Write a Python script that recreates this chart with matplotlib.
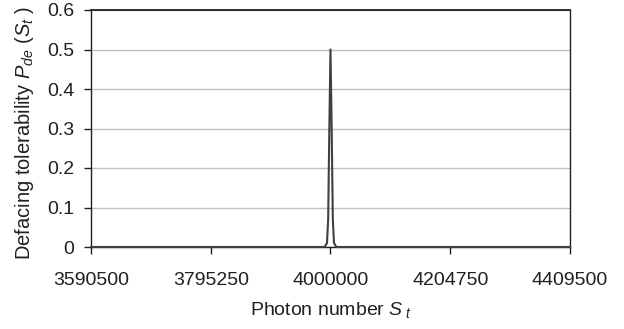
import matplotlib
matplotlib.use("Agg")
import matplotlib.pyplot as plt

plt.rcParams['font.family'] = ['Liberation Sans', 'DejaVu Sans']
plt.rcParams['mathtext.fontset'] = 'custom'
plt.rcParams['mathtext.rm'] = 'Liberation Sans'
plt.rcParams['mathtext.it'] = 'Liberation Sans:italic'

photon_number = [3590500, 3990000, 3994000, 3996000, 3998000, 4000000,
                 4002000, 4004000, 4006000, 4010000, 4409500]
tolerability = [0.0, 0.0, 0.01, 0.07, 0.3, 0.5, 0.3, 0.07, 0.01, 0.0, 0.0]

xticks = [3590500, 3795250, 4000000, 4204750, 4409500]
yticks = [0, 0.1, 0.2, 0.3, 0.4, 0.5, 0.6]
ytick_labels = ['0', '0.1', '0.2', '0.3', '0.4', '0.5', '0.6']

fig = plt.figure(figsize=(6.24, 3.29), dpi=100)
ax = fig.add_axes([91/624, 1-247/329, (570-91)/624, (247-10)/329])

ax.plot(photon_number, tolerability, color='#404040', lw=1.5, zorder=3,
        clip_on=False)

ax.set_xlim(3590500, 4409500)
ax.set_ylim(0, 0.6)
ax.set_xticks(xticks)
ax.set_xticklabels([str(t) for t in xticks])
ax.set_yticks(yticks)
ax.set_yticklabels(ytick_labels)

ax.yaxis.grid(True, color='#c0c0c0', lw=1.0)
ax.set_axisbelow(True)

spine_c = '#231f20'
for s in ['left', 'right', 'top', 'bottom']:
    ax.spines[s].set_color(spine_c)
    ax.spines[s].set_linewidth(1.0)
ax.spines['top'].set_linewidth(1.3)

ax.tick_params(axis='both', direction='out', length=5, width=1.0,
               color=spine_c, labelsize=14, labelcolor='#231f20')
ax.tick_params(axis='x', pad=13)
ax.tick_params(axis='y', pad=7)

ax.set_xlabel(r'Photon number $S_{\ t}$', fontsize=14, color='#231f20',
              va='top')
ax.xaxis.set_label_coords(0.5, -0.225)
ax.set_ylabel(r'Defacing tolerability $P_{de}$ $(S_t\ )$', fontsize=14.5,
              color='#231f20')
ax.yaxis.set_label_coords(-0.115, 0.48)

fig.savefig('out.png', dpi=100)
